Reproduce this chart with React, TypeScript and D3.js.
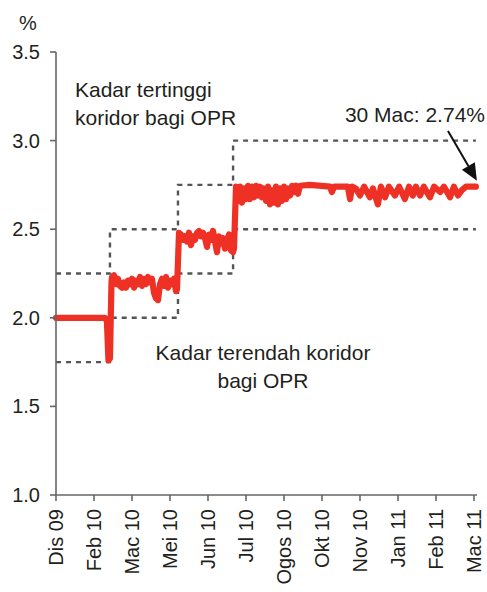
import React from "react";
import * as d3 from "d3";

// x positions are in axis-tick units (0 = "Dis 09", 11 = "Mac 11")
const tickLabels = ["Dis 09", "Feb 10", "Mac 10", "Mei 10", "Jun 10", "Jul 10", "Ogos 10", "Okt 10", "Nov 10", "Jan 11", "Feb 11", "Mac 11"];
const yTicks = [1.0, 1.5, 2.0, 2.5, 3.0, 3.5];

const times = [
  // OPR 2.00
  0, 1.29, 1.34, 1.38, 1.42, 1.46,
  // OPR 2.25
  1.474, 1.526, 1.579, 1.632, 1.684, 1.737, 1.789, 1.842, 1.895, 1.947, 2.0, 2.053, 2.105, 2.158, 2.211, 2.263, 2.316, 2.368, 2.421, 2.474,
  2.526, 2.579, 2.632, 2.684, 2.737, 2.789, 2.842, 2.895, 2.947, 3.0, 3.053, 3.105, 3.158, 3.184,
  // OPR 2.50
  3.237, 3.289, 3.342, 3.395, 3.447, 3.5, 3.553, 3.605, 3.658, 3.711, 3.763, 3.816, 3.868, 3.921, 3.974, 4.026, 4.079, 4.132, 4.184, 4.237,
  4.289, 4.342, 4.395, 4.447, 4.5, 4.553, 4.605, 4.658, 4.684,
  // OPR 2.75
  4.737, 4.789, 4.842, 4.895, 4.947, 5.0, 5.053, 5.105, 5.158, 5.211, 5.263, 5.316, 5.368, 5.421, 5.474, 5.526, 5.579, 5.632, 5.684, 5.737,
  5.789, 5.842, 5.895, 5.947, 6.0, 6.053, 6.105, 6.158, 6.211, 6.263, 6.316, 6.368, 6.421,
  6.68, 7.21, 7.26, 7.32, 7.68, 7.74, 7.79, 7.89, 8.0, 8.11, 8.26, 8.34, 8.47, 8.55, 8.66, 8.76, 8.92, 9.03, 9.18, 9.29, 9.39, 9.47, 9.58,
  9.68, 9.84, 9.95, 10.11, 10.21, 10.37, 10.47, 10.58, 10.68, 10.79, 11.05,
];
const rates = [
  2.0, 2.0, 1.98, 1.76, 1.77, 2.2,
  2.23, 2.24, 2.19, 2.22, 2.18, 2.17, 2.2, 2.17, 2.21, 2.19, 2.22, 2.17, 2.21, 2.19, 2.23, 2.18, 2.22, 2.19, 2.23, 2.2,
  2.22, 2.14, 2.11, 2.1, 2.19, 2.22, 2.18, 2.23, 2.17, 2.21, 2.19, 2.22, 2.15, 2.16,
  2.48, 2.47, 2.44, 2.46, 2.43, 2.48, 2.41, 2.46, 2.44, 2.48, 2.49, 2.46, 2.48, 2.45, 2.4, 2.47, 2.44, 2.49, 2.43, 2.37,
  2.46, 2.42, 2.45, 2.39, 2.44, 2.47, 2.38, 2.37, 2.39,
  2.74, 2.66, 2.74, 2.65, 2.73, 2.67, 2.745, 2.67, 2.74, 2.68, 2.745, 2.69, 2.74, 2.68, 2.73, 2.66, 2.74, 2.64, 2.72, 2.65,
  2.74, 2.64, 2.73, 2.66, 2.74, 2.67, 2.73, 2.69, 2.745, 2.71, 2.745, 2.7, 2.745,
  2.75, 2.74, 2.71, 2.74, 2.74, 2.67, 2.74, 2.73, 2.69, 2.74, 2.68, 2.73, 2.64, 2.74, 2.68, 2.74, 2.69, 2.74, 2.67, 2.74, 2.69, 2.74, 2.69,
  2.74, 2.68, 2.74, 2.71, 2.74, 2.68, 2.74, 2.69, 2.72, 2.74, 2.74,
];

// OPR steps: start position and OPR level; corridor = OPR ± 0.25
const oprStart = [0, 1.42, 3.21, 4.66];
const oprLevel = [2.0, 2.25, 2.5, 2.75];
const corridorEnd = 11.05;
const corridorWidth = 0.25;

const W = 487, H = 592;
const M = { left: 56, right: 11, top: 52, bottom: 97 };

const FONT = "'Liberation Sans', Arial, Helvetica, sans-serif";
const TXT = "#231F20";
const AX = "#666666";

export default function App() {
  const x = d3.scaleLinear().domain([0, 11]).range([M.left, 474]);
  const y = d3.scaleLinear().domain([1.0, 3.5]).range([H - M.bottom, M.top]);

  const data = times.map((t, i) => ({ t, v: rates[i] }));
  const line = d3.line<{ t: number; v: number }>().x((d) => x(d.t)).y((d) => y(d.v));

  const corridor = (off: number) => {
    const pts: [number, number][] = [];
    oprStart.forEach((s, i) => {
      const e = i < oprStart.length - 1 ? oprStart[i + 1] : corridorEnd;
      pts.push([x(s), y(oprLevel[i] + off)]);
      pts.push([x(e), y(oprLevel[i] + off)]);
    });
    return d3.line()(pts) || "";
  };

  const last = data[data.length - 1];
  const tip = [x(last.t) + 1, y(last.v) - 6];
  const tail = [448, 131];
  const ang = Math.atan2(tip[1] - tail[1], tip[0] - tail[0]);
  const hl = 17, hw = 7.5;
  const bx = tip[0] - hl * Math.cos(ang), by = tip[1] - hl * Math.sin(ang);
  const head = [
    [tip[0], tip[1]],
    [bx + hw * Math.sin(ang), by - hw * Math.cos(ang)],
    [bx - hw * Math.sin(ang), by + hw * Math.cos(ang)],
  ];

  const x0 = M.left, yBase = H - M.bottom;

  return (
    <svg width={W} height={H} style={{ position: "absolute", left: 0, top: 0, background: "#fff" }} fontFamily={FONT}>
      {/* corridor */}
      <path d={corridor(corridorWidth)} fill="none" stroke="#555" strokeWidth={2.4} strokeDasharray="5 5" />
      <path d={corridor(-corridorWidth)} fill="none" stroke="#555" strokeWidth={2.4} strokeDasharray="5 5" />

      {/* series */}
      <path d={line(data) || ""} fill="none" stroke="#EE3124" strokeWidth={6.2} strokeLinejoin="round" strokeLinecap="round" />

      {/* axes */}
      <line x1={x0} x2={x0} y1={y(3.5)} y2={yBase} stroke={AX} strokeWidth={1.6} />
      <line x1={x0} x2={477} y1={yBase} y2={yBase} stroke={AX} strokeWidth={1.6} />
      {yTicks.map((v) => (
        <g key={v}>
          <line x1={x0 - 6} x2={x0} y1={y(v)} y2={y(v)} stroke={AX} strokeWidth={1.6} />
          <text x={x0 - 16} y={y(v)} dy="0.35em" textAnchor="end" fontSize={20} fill={TXT}>
            {v.toFixed(1)}
          </text>
        </g>
      ))}
      {tickLabels.map((l, i) => (
        <g key={l}>
          <line x1={x(i)} x2={x(i)} y1={yBase} y2={yBase + 6} stroke={AX} strokeWidth={1.6} />
          <text transform={`translate(${x(i)},${yBase + 14}) rotate(-90)`} dy="0.35em" textAnchor="end" fontSize={20} fill={TXT}>
            {l}
          </text>
        </g>
      ))}
      <text x={28} y={30} textAnchor="middle" fontSize={20} fill={TXT}>%</text>

      {/* annotations */}
      <text x={75} y={97} fontSize={21} fill={TXT}>Kadar tertinggi</text>
      <text x={75} y={125} fontSize={21} fill={TXT}>koridor bagi OPR</text>
      <text x={263} y={360} textAnchor="middle" fontSize={21} fill={TXT}>Kadar terendah koridor</text>
      <text x={263} y={388} textAnchor="middle" fontSize={21} fill={TXT}>bagi OPR</text>
      <text x={485} y={122} textAnchor="end" fontSize={21} fill={TXT}>30 Mac: 2.74%</text>
      <line x1={tail[0]} y1={tail[1]} x2={bx} y2={by} stroke="#111" strokeWidth={2} />
      <polygon points={head.map((p) => p.join(",")).join(" ")} fill="#111" />
    </svg>
  );
}
